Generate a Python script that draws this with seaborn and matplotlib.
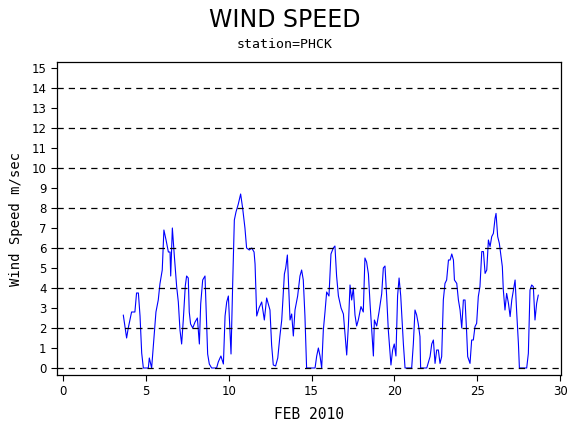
import matplotlib
matplotlib.use("Agg")
import matplotlib.pyplot as plt
import seaborn as sns
import pandas as pd

days = [3.64,3.84,3.94,4.14,4.34,4.44,4.55,4.65,4.75,4.85,5.15,5.21,5.35,5.45,5.61,5.75,5.85,5.99,6.09,6.22,6.36,6.46,6.5,6.6,6.72,6.86,6.96,7.06,7.16,7.26,7.38,7.46,7.56,7.62,7.7,7.83,7.97,8.11,8.23,8.31,8.43,8.57,8.67,8.73,8.83,8.97,9.27,9.37,9.53,9.68,9.78,9.88,9.98,10.08,10.14,10.24,10.34,10.44,10.58,10.72,10.84,10.98,11.08,11.24,11.39,11.53,
        11.59,11.69,11.83,11.99,12.15,12.29,12.49,12.59,12.69,12.83,12.96,13.09,13.2,13.36,13.44,13.54,13.6,13.7,13.8,13.9,14.0,14.16,14.3,14.4,14.5,14.6,14.66,14.7,15.21,15.31,15.41,15.51,15.61,15.71,15.81,15.91,16.05,16.17,16.31,16.41,16.51,16.62,16.78,16.92,17.02,17.12,17.22,17.32,17.42,17.52,17.62,17.72,17.82,17.98,18.12,18.22,18.32,18.43,18.53,18.63,18.73,18.79,18.93,19.07,19.23,19.33,19.43,19.53,19.63,19.79,19.89,19.99,20.09,20.19,20.28,20.38,20.54,
        20.64,21.04,21.14,21.24,21.34,21.44,21.54,21.58,21.95,22.15,22.25,22.35,22.45,22.55,22.65,22.75,22.85,22.95,23.05,23.15,23.26,23.36,23.46,23.56,23.62,23.76,23.86,23.96,24.06,24.16,24.26,24.36,24.42,24.56,24.66,24.76,24.86,24.96,25.06,25.16,25.27,25.37,25.47,25.57,25.67,25.77,25.87,25.97,26.07,26.13,26.23,26.33,26.43,26.51,26.57,26.67,26.77,26.88,26.98,27.08,27.18,27.28,27.38,27.48,27.54,27.98,28.08,28.18,28.28,28.38,28.48,28.58,28.68]
speed = [2.65,1.5,2.0,2.8,2.8,3.75,3.75,2.6,0.75,0.0,0.0,0.5,0.0,1.05,2.8,3.4,4.2,4.9,6.9,6.4,5.8,5.8,4.6,7.0,5.6,4.07,3.3,1.9,1.2,2.4,4.1,4.6,4.5,2.8,2.2,2.0,2.3,2.5,1.2,3.2,4.4,4.6,2.2,0.7,0.2,0.0,0.0,0.3,0.6,0.2,2.6,3.3,3.6,1.8,0.7,4.2,7.4,7.8,8.2,8.7,8.0,7.0,6.0,5.9,6.0,5.8,
         5.2,2.6,3.0,3.3,2.4,3.5,2.9,1.15,0.15,0.1,0.5,1.6,2.4,4.7,5.0,5.65,4.4,2.4,2.7,1.6,2.9,3.6,4.6,4.9,4.4,2.6,1.1,0.0,0.0,0.6,1.0,0.6,0.0,1.9,2.8,3.8,3.6,5.7,6.0,6.1,4.6,3.6,3.0,2.7,1.7,0.65,2.1,4.15,3.4,4.0,2.65,2.1,2.4,3.07,2.8,5.5,5.3,4.7,3.2,1.9,0.6,2.4,2.1,2.8,3.7,5.0,5.1,3.6,1.9,0.15,0.9,1.2,0.6,3.6,4.5,3.6,1.2,
         0.0,0.0,1.2,2.9,2.65,2.2,1.57,0.0,0.0,0.57,1.2,1.4,0.23,0.9,0.9,0.23,0.57,3.4,4.23,4.4,5.4,5.4,5.7,5.4,4.4,4.23,3.4,2.9,2.0,3.4,3.4,1.73,0.57,0.23,1.4,1.4,2.07,2.23,3.57,4.07,5.82,5.82,4.73,4.9,6.4,6.07,6.57,6.73,7.48,7.73,6.57,6.23,5.57,5.07,3.9,2.9,3.73,3.23,2.57,3.4,3.9,4.4,2.73,1.23,0.0,0.0,0.73,3.9,4.15,4.07,2.4,3.23,3.65]

df = pd.DataFrame({"day": days, "speed": speed})
sns.set_style("white")
plt.rcParams['font.family'] = ['DejaVu Sans']
fig = plt.figure(figsize=(5.7, 4.3), dpi=100)
ax = fig.add_axes([57/570, 1-375/430, (561-57)/570, (375-62)/430])
sns.lineplot(data=df, x="day", y="speed", ax=ax, color="blue", lw=0.8)
for v in range(0, 16, 2):
    ax.axhline(v, color="black", ls=(0, (5, 4)), lw=0.9)
ax.set_xlim(-0.36, 30.05)
ax.set_ylim(-0.35, 15.3)
ax.set_xticks(range(0, 31, 5))
ax.set_yticks(range(0, 16))
ax.tick_params(direction="out", length=4, labelsize=8.5, left=True, bottom=True, colors="black")
for s in ax.spines.values():
    s.set_color("black"); s.set_linewidth(0.9)
mono = "DejaVu Sans Mono"
ax.set_xlabel("FEB 2010", fontsize=10.5, family=mono, labelpad=6, color="black")
ax.set_ylabel("Wind Speed m/sec", fontsize=10, family=mono, labelpad=6, color="black")
fig.text(0.5, 1-20/430, "WIND SPEED", ha="center", va="center", fontsize=17, color="black")
fig.text(0.5, 1-45/430, "station=PHCK", ha="center", va="center", fontsize=9.5, family=mono, color="black")
fig.savefig("out.png", dpi=100)
